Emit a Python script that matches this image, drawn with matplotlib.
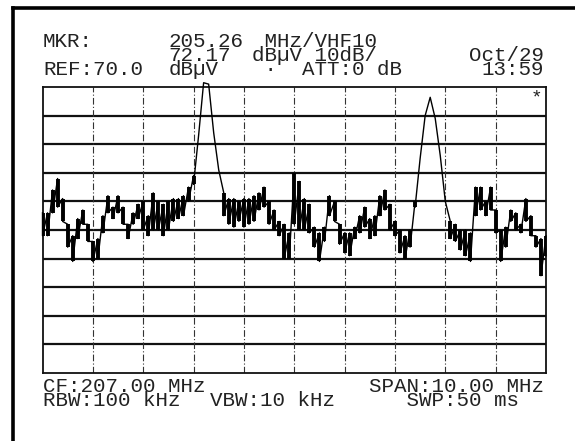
import numpy as np
import matplotlib
matplotlib.use("Agg")
import matplotlib.pyplot as plt
from matplotlib.lines import Line2D

freq = np.round(np.arange(202.0, 212.0001, 0.1), 1)
trace_hi = np.array([
    26, 26, 34, 38, 31, 22, 18, 24, 27, 22,
    16, 17, 25, 32, 28, 32, 28, 22, 26, 29,
    30, 25, 33, 30, 29, 30, 31, 31, 32, 35,
    39, 53, 71.5, 71, 54, 41, 33, 31, 31, 30,
    31, 31, 32, 33, 35, 30, 27, 23, 22, 19,
    40, 37, 31, 29, 21, 19, 21, 32, 30, 22,
    19, 19, 21, 25, 28, 24, 25, 32, 34, 29,
    23, 20, 18, 20, 30, 45, 60, 66.4, 59, 46,
    30, 23, 22, 20, 20, 19, 35, 35, 30, 35,
    27, 20, 21, 27, 26, 22, 31, 25, 18, 17,
    18])
trace_lo = np.array([
    18, 18, 26, 28, 23, 14, 9, 17, 22, 16,
    9, 10, 19, 26, 24, 26, 22, 17, 22, 24,
    20, 18, 20, 20, 18, 20, 23, 24, 25, 30,
    36, 53, 71.5, 71, 54, 41, 25, 22, 21, 23,
    21, 22, 23, 27, 28, 22, 20, 18, 10, 10,
    22, 20, 20, 19, 14, 9, 16, 25, 23, 15,
    12, 11, 17, 19, 21, 17, 18, 25, 27, 20,
    18, 12, 10, 14, 28, 45, 60, 66.4, 59, 46,
    30, 17, 16, 13, 11, 9, 25, 27, 25, 27,
    19, 9, 14, 23, 20, 19, 23, 18, 14, 4,
    11])
ref_level = 70.0
db_per_div = 10
center_mhz = 207.0
span_mhz = 10.0

# screen text
mkr_label = "MKR:"
ref_label = "REF:70.0"
marker_values = ["205.26", "72.17", "dB\u00b5V"]
marker_units = [" MHz/VHF10", "dB\u00b5V 10dB/", " \u00b7  ATT:0 dB"]
date_rows = ["Oct/29", "13:59"]
cf_rbw_rows = ["CF:207.00 MHz", "RBW:100 kHz"]
vbw_label = "VBW:10 kHz"
span_swp_rows = ["SPAN:10.00 MHz", "   SWP:50 ms"]
star_label = "*"

# ---- figure ----
W, H = 575, 441
fig = plt.figure(figsize=(W / 100, H / 100), dpi=100)
fig.patch.set_facecolor("white")

L, R, T, B = 42.5, 546, 87, 373
ax = fig.add_axes([L / W, 1 - B / H, (R - L) / W, (B - T) / H])
f0, f1 = center_mhz - span_mhz / 2, center_mhz + span_mhz / 2
bottom = ref_level - 10 * db_per_div
ax.set_xlim(f0, f1)
ax.set_ylim(bottom, ref_level)
ax.set_xticks([])
ax.set_yticks([])
for s in ax.spines.values():
    s.set_linewidth(1.3)
    s.set_color("#111111")

for lev in np.arange(bottom + db_per_div, ref_level, db_per_div):
    ax.axhline(lev, color="#111111", lw=1.6, zorder=1)
for f in np.arange(f0 + 1, f1 - 0.5, 1.0):
    ax.axvline(f, color="#333333", lw=0.8, ls=(0, (6, 2, 1, 2)), zorder=1)

# trace: peak-detector sawtooth between the envelope values
xs = np.repeat(freq, 2)
ys = np.column_stack([trace_hi, trace_lo]).ravel()
ax.plot(xs, ys, color="black", lw=1.0, clip_on=False, zorder=3)
ax.vlines(freq, trace_lo, trace_hi, color="black", lw=2.8, zorder=3)

# ---- screen text: blocks anchored on the screen's 36-column grid ----
FONT = "Liberation Mono"
NCOL = 36
X0 = 43.0
cell = (R - 2 - X0) / NCOL           # px per screen character cell
FS = 15
TC = "#222222"
ROW = 14.0                           # px between text rows
XR = X0 + NCOL * cell

renderer = fig.canvas.get_renderer()


def _top_to_last_baseline(lines, ls):
    t = fig.text(0.5, 0.5, "\n".join(lines), fontsize=FS, family=FONT,
                 linespacing=ls, va="baseline")
    bb = t.get_window_extent(renderer)
    t.remove()
    return bb.y1 - 0.5 * H


def block(x_px, baseline1, lines, ha="left", malign="left"):
    n = len(lines)
    ls = 1.0
    if n > 1:
        lo, hi = 0.05, 3.0
        first = _top_to_last_baseline(lines[:1], 1.0)
        for _ in range(40):
            ls = 0.5 * (lo + hi)
            span = _top_to_last_baseline(lines, ls) - first
            if span > (n - 1) * ROW:
                hi = ls
            else:
                lo = ls
    top = baseline1 - _top_to_last_baseline(lines[:1], 1.0)
    fig.text(x_px / W, 1 - top / H, "\n".join(lines), ha=ha, va="top",
             multialignment=malign, fontsize=FS, family=FONT, color=TC,
             linespacing=ls)


HB = 47      # baseline of first header row
FB = 392     # baseline of first footer row
block(X0, HB, [mkr_label])
block(X0 + 9 * cell, HB, marker_values)
block(X0 + 15 * cell, HB, marker_units)
block(X0, HB + 2 * ROW, [ref_label])
block(XR, HB + ROW, date_rows, ha="right", malign="right")

block(X0, FB, cf_rbw_rows)
block(X0 + 12 * cell, FB + ROW, [vbw_label])
block(XR, FB, span_swp_rows, ha="right", malign="left")

ax.text(f1 - 0.08, ref_level - 1.0, star_label, ha="right", va="top",
        fontsize=14, family=FONT, color=TC)

# outer border (left and top edges of the scanned page frame)
fig.add_artist(Line2D([12.5 / W, 12.5 / W], [1 - 8 / H, 0], lw=2.6,
                      color="black", transform=fig.transFigure))
fig.add_artist(Line2D([12.5 / W, 1], [1 - 8 / H, 1 - 8 / H], lw=2.6,
                      color="black", transform=fig.transFigure))

fig.savefig("out.png", dpi=100, facecolor="white")
